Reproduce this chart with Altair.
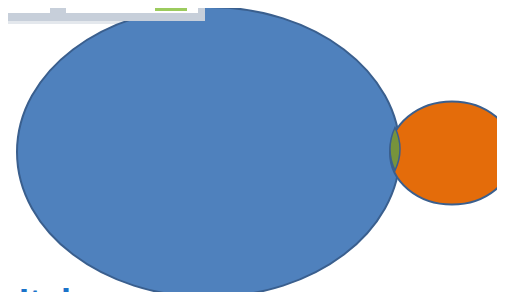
import altair as alt
import pandas as pd

# Sets of the Venn diagram (page pixel units)
set_names = ["Set A", "Set B"]
center_x = [208.5, 452.0]
center_y = [152.0, 153.0]
radius_x = [191.5, 62.0]
radius_y = [145.0, 51.5]
fill_colors = ["#4F81BD", "#E46C0A"]

# Overlap (lens) region
overlap_x = [395.0]
overlap_y = [149.0]
overlap_half_w = [5.0]
overlap_half_h = [21.5]
overlap_color = "#77933C"

outline_color = "#3A5F8E"

# Overlay panel at top-left (screenshot frame)
panel_x1 = [0, 0, 0, 66, 155]
panel_x2 = [209, 205, 50, 198, 187]
panel_y1 = [0, 0, 0, 0, 0]
panel_y2 = [24, 21, 13, 13, 11]
panel_colors = ["#E4E8ED", "#C7CFDA", "#FFFFFF", "#FFFFFF", "#9CCB5E"]

# Partly visible caption at the bottom
caption_text = ["Italy"]
caption_x = [19]
caption_y = [315]

K = 0.5523


def ellipse_path(r):
    kr = K * r
    return (
        f"M 1 0 C 1 {kr:.4f} {K} {r:.4f} 0 {r:.4f} "
        f"C {-K} {r:.4f} -1 {kr:.4f} -1 0 "
        f"C -1 {-kr:.4f} {-K} {-r:.4f} 0 {-r:.4f} "
        f"C {K} {-r:.4f} 1 {-kr:.4f} 1 0 Z"
    )


def lens_path(w):
    c = 2 * w
    return f"M 0 -1 Q {-c:.4f} 0 0 1 Q {c:.4f} 0 0 -1 Z"


sets = pd.DataFrame({
    "name": set_names,
    "x": center_x,
    "y": center_y,
    "size": [(2 * rx) ** 2 for rx in radius_x],
    "shape": [ellipse_path(ry / rx) for rx, ry in zip(radius_x, radius_y)],
    "color": fill_colors,
})

lens = pd.DataFrame({
    "x": overlap_x,
    "y": overlap_y,
    "size": [(2 * h) ** 2 for h in overlap_half_h],
    "shape": [lens_path(w / h) for w, h in zip(overlap_half_w, overlap_half_h)],
})

panels = pd.DataFrame({
    "x1": panel_x1, "x2": panel_x2, "y1": panel_y1, "y2": panel_y2,
    "color": panel_colors, "order": list(range(len(panel_x1))),
})

caption = pd.DataFrame({"text": caption_text, "x": caption_x, "y": caption_y})

# keep the whole page inside the 505x300 window (8px page margin on each side)
W, H = 489, 284
xs = alt.Scale(domain=[8, 8 + W], range=[0, W], nice=False, zero=False)
ys = alt.Scale(domain=[8, 8 + H], range=[0, H], nice=False, zero=False)

shadow = alt.Chart(panels.iloc[[0]]).mark_rect().encode(
    x=alt.X("x1:Q", scale=xs, axis=None), x2="x2:Q",
    y=alt.Y("y1:Q", scale=ys, axis=None), y2="y2:Q",
    color=alt.Color("color:N", scale=None),
)

ellipses = alt.Chart(sets).mark_point(
    filled=True, opacity=1, stroke=outline_color, strokeWidth=2, strokeOpacity=1
).encode(
    x=alt.X("x:Q", scale=xs, axis=None),
    y=alt.Y("y:Q", scale=ys, axis=None),
    size=alt.Size("size:Q", scale=None, legend=None),
    shape=alt.Shape("shape:N", scale=None, legend=None),
    fill=alt.Fill("color:N", scale=None, legend=None),
    order=alt.Order("name:N"),
)

lens_layer = alt.Chart(lens).mark_point(
    filled=True, opacity=1, fill=overlap_color, stroke=outline_color,
    strokeWidth=1.5, strokeOpacity=1
).encode(
    x=alt.X("x:Q", scale=xs, axis=None),
    y=alt.Y("y:Q", scale=ys, axis=None),
    size=alt.Size("size:Q", scale=None, legend=None),
    shape=alt.Shape("shape:N", scale=None, legend=None),
)

frame = alt.Chart(panels.iloc[1:]).mark_rect().encode(
    x=alt.X("x1:Q", scale=xs, axis=None), x2="x2:Q",
    y=alt.Y("y1:Q", scale=ys, axis=None), y2="y2:Q",
    color=alt.Color("color:N", scale=None),
    order=alt.Order("order:Q"),
)

text = alt.Chart(caption).mark_text(
    align="left", baseline="alphabetic", font="Liberation Sans",
    fontSize=36, fontWeight="bold", color="#1A73C9"
).encode(
    x=alt.X("x:Q", scale=xs, axis=None),
    y=alt.Y("y:Q", scale=ys, axis=None),
    text="text:N",
)

chart = alt.layer(shadow, ellipses, lens_layer, frame, text).properties(
    width=W, height=H, padding=0, autosize="none", background="white"
).configure_view(stroke=None)

chart.save("out.html", embed_options={"renderer": "svg", "actions": False})
